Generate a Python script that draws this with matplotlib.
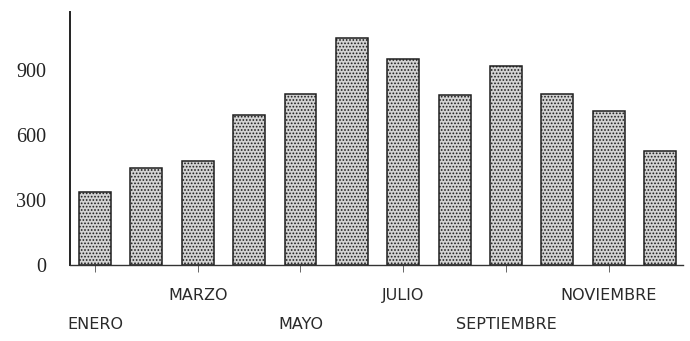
import matplotlib
matplotlib.use("Agg")
import matplotlib.pyplot as plt
from matplotlib.transforms import blended_transform_factory

months = ["ENERO", "FEBRERO", "MARZO", "ABRIL", "MAYO", "JUNIO",
          "JULIO", "AGOSTO", "SEPTIEMBRE", "OCTUBRE", "NOVIEMBRE", "DICIEMBRE"]
values = [335, 447, 479, 695, 788, 1050, 950, 785, 920, 790, 710, 525]
yticks = [0, 300, 600, 900]

plt.rcParams['hatch.color'] = '#444444'
plt.rcParams['hatch.linewidth'] = 0.8

fig = plt.figure(figsize=(6.9, 3.41), dpi=100)
ax = fig.add_axes([0.1014, 0.2229, 0.8886, 0.7428])

x = list(range(len(months)))
ax.bar(x, values, width=0.62, facecolor='#d2d2d2', edgecolor='#1e1e1e',
       linewidth=1.1, hatch='.....')

ax.set_xlim(-0.487, 11.448)
ax.set_ylim(0, 1170)

ax.set_yticks(yticks)
ax.set_yticklabels([str(v) for v in yticks], family='Liberation Serif',
                   fontsize=14.5, color='#222222')
ax.tick_params(axis='y', length=0, pad=17)

label_idx = x[::2]
ax.set_xticks(label_idx)
ax.set_xticklabels([])
ax.tick_params(axis='x', length=5, width=0.7, color='#666666', direction='out')

trans = blended_transform_factory(ax.transData, ax.transAxes)
for k, i in enumerate(label_idx):
    off = -22 if k % 2 == 1 else -43
    ax.annotate(months[i], xy=(i, 0), xycoords=trans, xytext=(0, off),
                textcoords='offset points', ha='center', va='center',
                fontsize=11.5, family='DejaVu Sans', color='#2a2a2a')

for s in ['top', 'right']:
    ax.spines[s].set_visible(False)
ax.spines['left'].set_color('#222222')
ax.spines['left'].set_linewidth(1.4)
ax.spines['bottom'].set_color('#333333')
ax.spines['bottom'].set_linewidth(1.0)
ax.spines['bottom'].set_linestyle((0, (3, 1)))

fig.savefig('out.png', dpi=100)
